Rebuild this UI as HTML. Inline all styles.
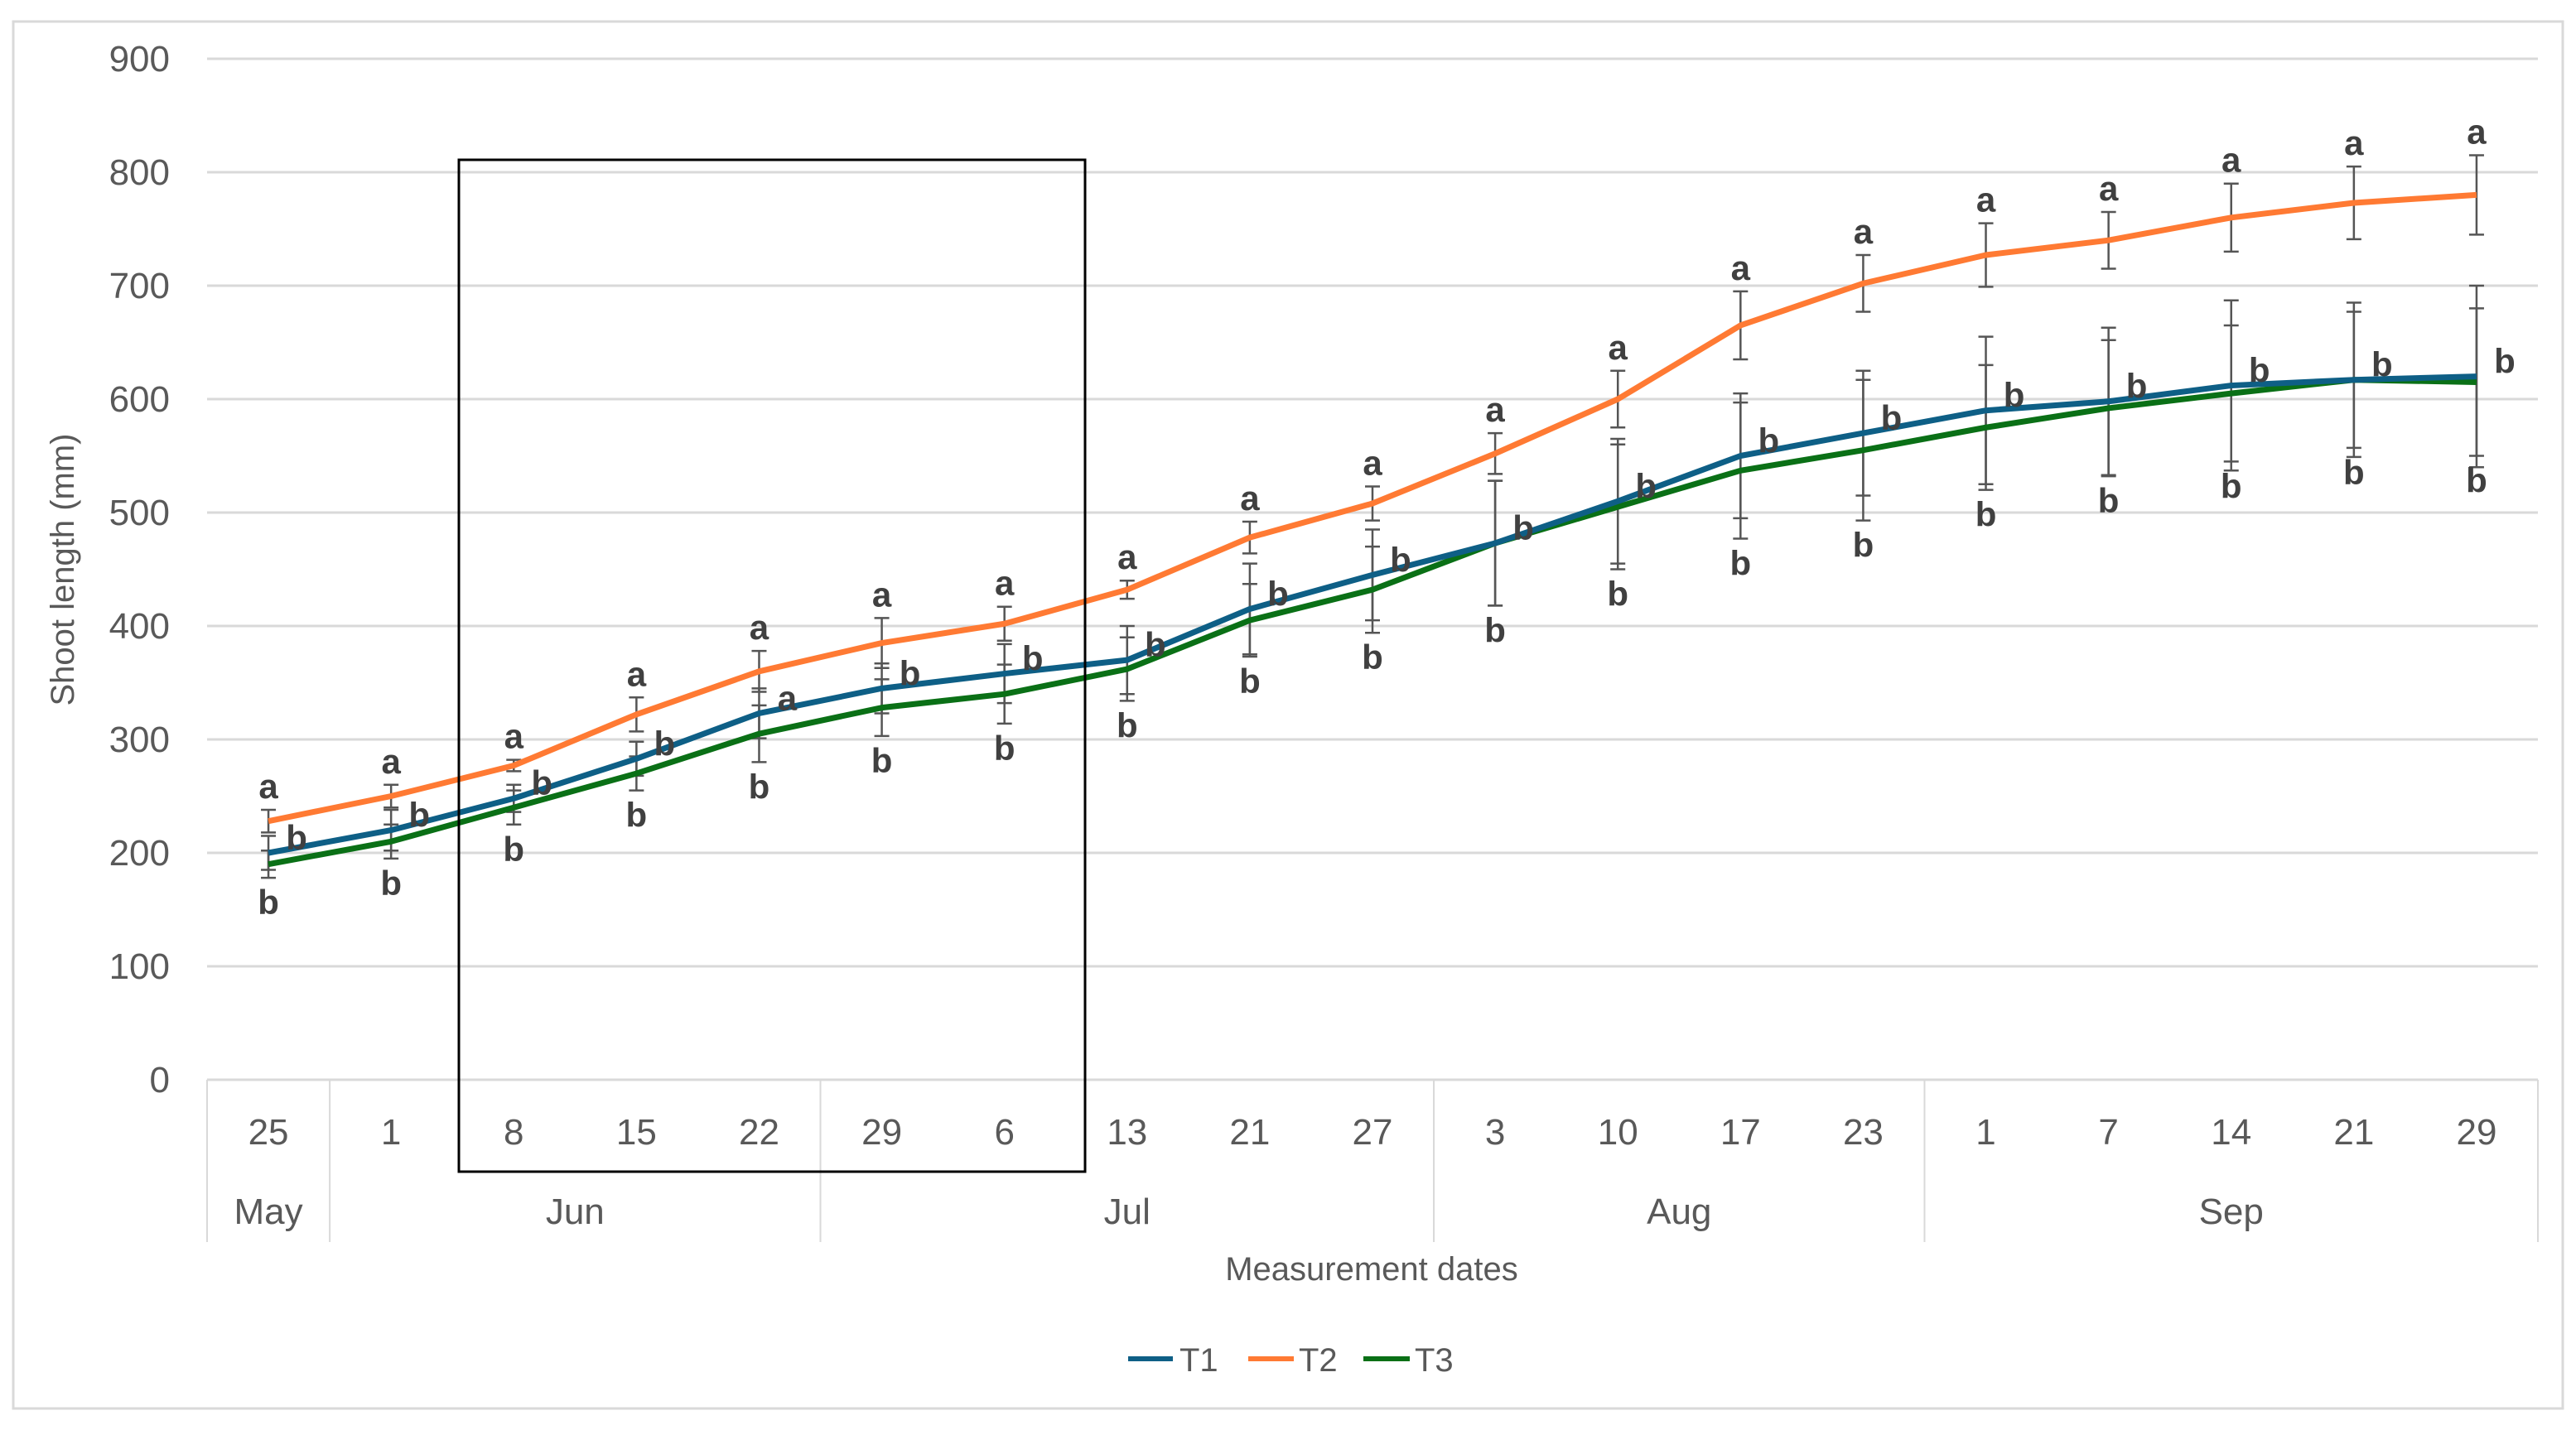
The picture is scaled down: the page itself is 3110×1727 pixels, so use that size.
<!DOCTYPE html>
<html><head><meta charset="utf-8"><style>
html,body{margin:0;padding:0;background:#fff;}
svg{display:block;}
text{font-family:"Liberation Sans",sans-serif;}
</style></head><body>
<svg id="chart" width="3110" height="1727" viewBox="0 0 3110 1727">
<rect x="16" y="26" width="3078" height="1675" fill="#fff" stroke="#d9d9d9" stroke-width="3"/>
<g id="grid"></g><g id="xaxis"></g><g id="series"></g><g id="labels"></g>
<rect x="554" y="193" width="756" height="1222" fill="none" stroke="#000" stroke-width="3"/>
<text x="89" y="688" transform="rotate(-90 89 688)" text-anchor="middle" font-size="40" fill="#595959">Shoot length (mm)</text>
<text x="1656" y="1546" text-anchor="middle" font-size="40" fill="#595959">Measurement dates</text>
<g>
<line x1="1362" y1="1641" x2="1416" y2="1641" stroke="#0e5f86" stroke-width="6"/>
<text x="1424" y="1656" font-size="40" fill="#595959">T1</text>
<line x1="1507" y1="1641" x2="1562" y2="1641" stroke="#ff7a33" stroke-width="6"/>
<text x="1568" y="1656" font-size="40" fill="#595959">T2</text>
<line x1="1646" y1="1641" x2="1702" y2="1641" stroke="#0a7016" stroke-width="6"/>
<text x="1708" y="1656" font-size="40" fill="#595959">T3</text>
</g>
</svg>
<script>
const dates=["25","1","8","15","22","29","6","13","21","27","3","10","17","23","1","7","14","21","29"];
const months=["May","Jun","Jul","Aug","Sep"];
const monthCounts=[1,4,5,4,5];
const yTicks=[0,100,200,300,400,500,600,700,800,900];
const t1=[200,220,248,283,323,345,358,370,415,445,473,510,550,570,590,598,612,617,620];
const t2=[228,250,277,322,360,385,402,432,478,508,552,600,665,702,727,740,760,773,780];
const t3=[190,210,240,270,305,328,340,362,405,432,473,505,537,555,575,592,605,617,615];
const e1=[15,18,12,15,22,22,26,30,40,40,55,55,55,55,65,65,75,68,80];
const e2=[10,10,5,15,18,22,15,8,14,15,18,25,30,25,28,25,30,32,35];
const e3=[12,15,15,15,25,25,26,28,32,38,55,55,60,62,55,60,60,60,65];
const l1=["b","b","b","b","a","b","b","b","b","b","b","b","b","b","b","b","b","b","b"];
const NS="http://www.w3.org/2000/svg";
const L=250,R=3064,Y0=1304,Y900=71;
const bw=(R-L)/dates.length;
const xs=i=>L+bw*(i+0.5);
const ys=v=>Y0-(Y0-Y900)*v/900;
function mk(tag,attrs,parent,txt){const e=document.createElementNS(NS,tag);for(const k in attrs)e.setAttribute(k,attrs[k]);if(txt!==undefined)e.textContent=txt;parent.appendChild(e);return e;}
const grid=document.getElementById('grid');
yTicks.forEach(t=>{
 if(t>0){const g=mk('line',{x1:L,x2:R,y1:ys(t),y2:ys(t),stroke:'#d9d9d9','stroke-width':3},grid);
 
 }
 const tx=mk('text',{x:205,y:ys(t)+15,'text-anchor':'end','font-size':44,fill:'#595959'},grid,String(t));
 
 
});
const xa=document.getElementById('xaxis');
const ax=mk('line',{x1:L,x2:R,y1:Y0,y2:Y0,stroke:'#d9d9d9','stroke-width':3},xa);


dates.forEach((d,i)=>{
 const t=mk('text',{x:xs(i),y:1382,'text-anchor':'middle','font-size':44,fill:'#595959'},xa,d);
 
 
});
let idx=0;
const sep=x=>{const s=mk('line',{x1:x,x2:x,y1:Y0,y2:1500,stroke:'#d9d9d9','stroke-width':2},xa);
 
 };
sep(L);
months.forEach((m,k)=>{
 const a=L+bw*idx; idx+=monthCounts[k]; const b=L+bw*idx;
 sep(b);
 const t=mk('text',{x:(a+b)/2,y:1478,'text-anchor':'middle','font-size':44,fill:'#595959'},xa,m);
 
 
});
const sg=document.getElementById('series'),lg=document.getElementById('labels');
function errs(vals,err,name){
 vals.forEach((v,i)=>{const x=xs(i),top=ys(v+err[i]),bot=ys(v-err[i]);
  const g=mk('path',{d:`M${x},${top}V${bot}M${x-9},${top}H${x+9}M${x-9},${bot}H${x+9}`,stroke:'#555',fill:'none','stroke-width':2.5},sg);
  
  });
}
errs(t1,e1,'t1');errs(t2,e2,'t2');errs(t3,e3,'t3');
function line(vals,color,name){
 const p=mk('path',{d:vals.map((v,i)=>(i?'L':'M')+xs(i)+','+ys(v)).join(''),stroke:color,'stroke-width':7,fill:'none','stroke-linejoin':'round'},sg);
 
 
}
line(t3,'#0a7016','t3');line(t1,'#0e5f86','t1');line(t2,'#ff7a33','t2');
t2.forEach((v,i)=>{const t=mk('text',{x:xs(i),y:ys(v+e2[i])-14,'text-anchor':'middle','font-size':42,'font-weight':'bold',fill:'#404040'},lg,'a');
 
 });
t1.forEach((v,i)=>{const t=mk('text',{x:xs(i)+34,y:ys(v)-4,'text-anchor':'middle','font-size':42,'font-weight':'bold',fill:'#404040'},lg,l1[i]);
 
 });
t3.forEach((v,i)=>{const t=mk('text',{x:xs(i),y:ys(v-e3[i])+44,'text-anchor':'middle','font-size':42,'font-weight':'bold',fill:'#404040'},lg,'b');
 
 });
</script>
</body></html>
